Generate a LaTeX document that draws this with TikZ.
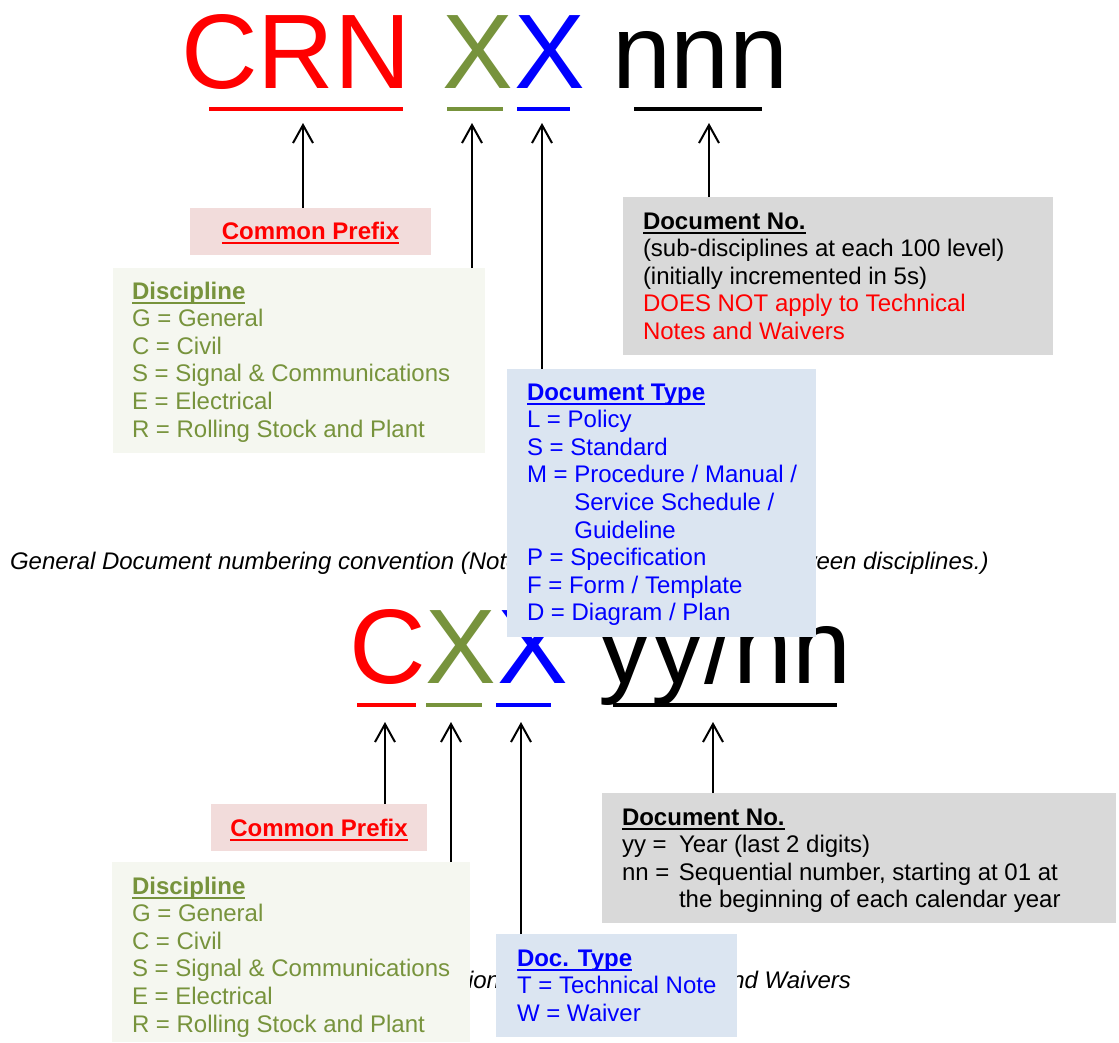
\documentclass[tikz,border=0pt]{standalone}
\usepackage{fontspec}
\usepackage{graphicx}
\setmainfont{Liberation Sans}
\usetikzlibrary{arrows.meta}
\definecolor{cred}{HTML}{FF0000}
\definecolor{cgreen}{HTML}{77933C}
\definecolor{cblue}{HTML}{0000FF}
\definecolor{fpink}{HTML}{F2DCDB}
\definecolor{fgreen}{HTML}{F5F7F0}
\definecolor{fgray}{HTML}{D9D9D9}
\definecolor{fblue}{HTML}{DBE5F1}
\newcommand\myul[1]{\setbox0\hbox{#1}\leavevmode\rlap{\vrule height -2.6pt depth 4.6pt width \wd0}\box0}
\tikzset{
  panel/.style={anchor=north west, inner sep=0pt, outer sep=0pt, draw=none},
  txt/.style={anchor=base west, inner sep=0pt, outer sep=0pt, font=\fontsize{24}{27.6}\selectfont},
  ttl/.style={anchor=base, inner sep=0pt, outer sep=0pt, font=\fontsize{24}{27.6}\selectfont\bfseries},
  captxt/.style={inner sep=0pt, outer sep=0pt, font=\fontsize{24}{27.6}\selectfont\itshape},
  big/.style={anchor=base west, inner sep=0pt, outer sep=0pt, font=\fontsize{106}{110}\selectfont},
  arr/.style={line width=2pt, -{Straight Barb[length=18pt,width=20pt]}},
  ul/.style={line width=4.5pt},
}
\begin{document}
\begin{tikzpicture}[x=1pt,y=-1pt]
\useasboundingbox[fill=white] (0,0) rectangle (1119,1042);

% ---------------- top code ----------------
\node[big, text=cred]   (tC)  at (181,88) {CRN};
\node[big, text=cgreen] (tX1) at (442,88) {X};
\node[big, text=cblue]  (tX2) at (514,88) {X};
\node[big, text=black]  (tN)  at (612,88) {nnn};
\draw[ul, cred]   (209,109) -- (403,109);
\draw[ul, cgreen] (447,109) -- (503,109);
\draw[ul, cblue]  (517,109) -- (570,109);
\draw[ul, black]  (634,109) -- (762,109);
\coordinate (a1) at (303,123);
\coordinate (a2) at (472,123);
\coordinate (a3) at (542,123);
\coordinate (a4) at (709,123);

% caption 1
\node[captxt, anchor=base west] (cap1) at (10,569) {General Document numbering convention (Note: no document overlap between disciplines.)};

% ---------------- bottom code ----------------
\node[big, text=cred]   (bC)  at (349,683) {C};
\node[big, text=cgreen] (bX1) at (425,683) {X};
\node[big, text=cblue]  (bX2) at (497,683) {X};
\node[big, text=black]  (bN)  at (598,683) {yy/nn};
\draw[ul, cred]   (357,705) -- (416,705);
\draw[ul, cgreen] (426,705) -- (482,705);
\draw[ul, cblue]  (496,705) -- (551,705);
\draw[ul, black]  (613,705) -- (837,705);
\coordinate (b1) at (385,722);
\coordinate (b2) at (451,722);
\coordinate (b3) at (521,722);
\coordinate (b4) at (713,722);

% caption 2
\node[captxt, anchor=base east] (cap2) at (851,988) {Document numbering convention for Technical Notes and Waivers};

% ---------------- top boxes ----------------
\node[panel, fill=fpink, minimum width=241pt, minimum height=47pt] (cp1) at (190,208) {};
\node[ttl, text=cred] (cp1t) at (310.5,239.5) {\myul{Common Prefix}};

\node[panel, fill=fgreen, minimum width=372pt, minimum height=185pt] (di1) at (113,268) {};
\node[txt, text=cgreen] (di1t) at (132,299) {\begin{tabular}[t]{@{}l@{}}\myul{\textbf{Discipline}}\\
G = General\\ C = Civil\\ S = Signal \& Communications\\ E = Electrical\\ R = Rolling Stock and Plant\end{tabular}};

\node[panel, fill=fgray, minimum width=430pt, minimum height=158pt] (dn1) at (623,197) {};
\node[txt, text=black] (dn1t) at (643,229) {\begin{tabular}[t]{@{}l@{}}\myul{\textbf{Document No.}}\\
(sub-disciplines at each 100 level)\\ (initially incremented in 5s)\\
\textcolor{cred}{DOES NOT apply to Technical}\\ \textcolor{cred}{Notes and Waivers}\end{tabular}};

\node[panel, fill=fblue, minimum width=309pt, minimum height=268pt] (dt1) at (507,369) {};
\node[txt, text=cblue] (dt1t) at (527,400) {\begin{tabular}[t]{@{}l@{}}\myul{\textbf{Document Type}}\\
L = Policy\\ S = Standard\\ M = Procedure / Manual /\\ \hphantom{M = }Service Schedule /\\ \hphantom{M = }Guideline\\
P = Specification\\ F = Form / Template\\ D = Diagram / Plan\end{tabular}};

\draw[arr] (cp1.north -| a1) -- (a1);
\draw[arr] (di1.north -| a2) -- (a2);
\draw[arr] (dt1.north -| a3) -- (a3);
\draw[arr] (dn1.north -| a4) -- (a4);

% ---------------- bottom boxes ----------------
\node[panel, fill=fpink, minimum width=216pt, minimum height=47pt] (cp2) at (211,804) {};
\node[ttl, text=cred] (cp2t) at (319,836.5) {\myul{Common Prefix}};

\node[panel, fill=fgreen, minimum width=358pt, minimum height=180pt] (di2) at (112,862) {};
\node[txt, text=cgreen] (di2t) at (132,894) {\begin{tabular}[t]{@{}l@{}}\myul{\textbf{Discipline}}\\
G = General\\ C = Civil\\ S = Signal \& Communications\\ E = Electrical\\ R = Rolling Stock and Plant\end{tabular}};

\node[panel, fill=fgray, minimum width=514pt, minimum height=130pt] (dn2) at (602,793) {};
\node[txt, text=black] (dn2t) at (622,825) {\begin{tabular}[t]{@{}l@{}}\myul{\textbf{Document No.}}\\
\makebox[57pt][l]{yy =}Year (last 2 digits)\\
\makebox[57pt][l]{nn =}Sequential number, starting at 01 at\\
\hspace*{57pt}the beginning of each calendar year\end{tabular}};

\node[panel, fill=fblue, minimum width=241pt, minimum height=103pt] (dt2) at (496,934) {};
\node[txt, text=cblue] (dt2t) at (517,966) {\begin{tabular}[t]{@{}l@{}}\myul{\textbf{Doc. Type}}\\
T = Technical Note\\ W = Waiver\end{tabular}};

\draw[arr] (cp2.north -| b1) -- (b1);
\draw[arr] (di2.north -| b2) -- (b2);
\draw[arr] (dt2.north -| b3) -- (b3);
\draw[arr] (dn2.north -| b4) -- (b4);
\end{tikzpicture}
\end{document}
